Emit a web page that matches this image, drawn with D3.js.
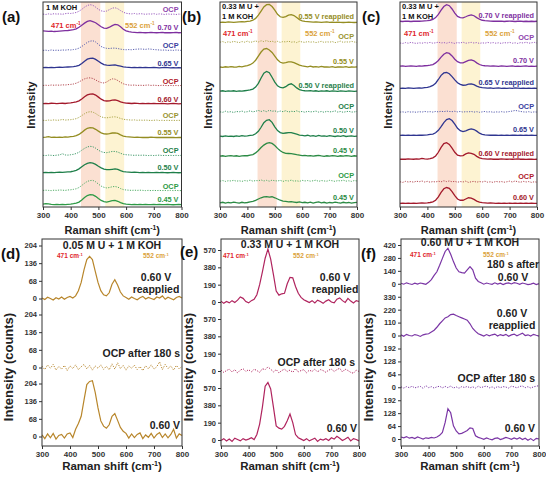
<!DOCTYPE html>
<html>
<head>
<meta charset="utf-8">
<script src="https://cdn.jsdelivr.net/npm/d3@7"></script>
<style>
  body { margin: 0; background: #fff; }
  svg text { font-family: "Liberation Sans", Arial, sans-serif; font-weight: bold; }
</style>
</head>
<body>
<svg id="chart" width="546" height="478"></svg>
<script>
// Raman shift sampling (cm-1)
const ramanShift = [300,310,320,330,340,350,360,370,380,390,400,410,420,430,440,450,460,470,480,490,
  500,510,520,530,540,550,560,570,580,590,600,610,620,630,640,650,660,670,680,690,
  700,710,720,730,740,750,760,770,780,790,800]
const xTicks = [300, 400, 500, 600, 700, 800]
const bandPink = [437, 507]
const bandYellow = [525, 593]

// ---- panel (a): 1 M KOH, top to bottom ----
const aLabels = ['OCP', '0.70 V', 'OCP', '0.65 V', 'OCP', '0.60 V', 'OCP', '0.55 V', 'OCP', '0.50 V', 'OCP', '0.45 V']
const aOffsets = [937, 849, 761, 678, 590, 502, 420, 337, 249, 166, 78, 10]
const aOcp070 = [4,2,5,3,6,4,5,3,6,8,7,9,12,18,27,38,46,50,47,38,27,20,17,19,26,33,35,30,21,13,8,6,5,7,4,6,5,3,5,4,6,3,5,4,2,5,3,4,2,4,3]
const a070 = [10,9,8,9,7,8,9,10,11,12,14,16,20,28,38,48,56,60,55,50,40,30,24,22,28,36,42,40,30,18,10,6,4,3,2,3,2,1,2,3,2,1,2,3,1,2,1,2,3,1,2]
const aOcp065 = [3,4,2,5,3,4,3,5,4,6,5,7,9,14,22,32,42,48,50,44,32,22,16,13,12,14,14,12,9,7,6,7,6,8,9,10,9,8,10,9,7,6,5,4,5,3,4,3,5,4,3]
const a065 = [2,3,2,3,2,3,4,3,4,5,6,7,9,13,22,33,43,47,48,42,33,24,17,14,13,14,15,12,9,6,4,3,2,3,2,3,2,3,2,2,3,2,1,2,3,2,1,2,1,2,1]
const aOcp060 = [3,4,3,5,4,5,4,6,5,7,8,10,14,20,28,35,39,40,37,30,22,17,15,20,29,35,34,27,18,11,7,5,4,5,3,4,3,4,5,3,4,3,2,4,3,2,3,2,3,2,3]
const a060 = [2,3,2,4,3,2,3,4,3,5,6,8,11,16,25,36,45,49,50,44,34,24,17,15,16,19,20,17,11,7,5,4,3,4,3,2,3,2,3,2,3,2,2,3,2,1,2,3,2,1,2]
const aOcp055 = [3,2,4,3,5,3,4,7,4,5,6,8,11,17,26,35,42,45,43,36,27,20,16,15,17,19,20,17,12,8,6,5,4,5,3,4,3,4,3,2,3,4,2,3,2,3,2,3,2,3,2]
const a055 = [3,4,6,3,4,3,4,3,5,4,6,8,11,17,27,38,47,50,49,42,33,25,20,19,21,24,25,22,15,9,6,5,4,3,4,3,2,3,2,4,3,2,3,2,3,2,3,2,1,2,2]
const aOcp050 = [3,2,4,3,2,4,5,11,5,4,6,8,12,18,28,37,44,47,45,38,28,21,17,16,19,22,22,19,13,8,6,5,4,3,4,3,4,3,2,3,2,3,4,2,3,2,3,2,3,2,3]
const a050 = [2,3,2,3,2,3,4,3,4,5,6,9,13,20,30,40,47,50,48,42,33,25,19,16,16,18,20,17,11,7,5,4,3,4,3,2,3,2,3,2,2,3,2,3,2,1,2,3,2,1,2]
const aOcp045 = [3,4,3,2,4,3,5,4,3,5,6,8,11,17,27,38,47,51,52,45,34,24,18,15,17,21,22,19,12,7,5,4,3,4,3,4,3,2,3,2,3,2,3,2,3,2,3,2,3,2,2]
const a045 = [4,6,5,3,2,3,2,3,2,3,4,6,9,14,24,36,46,50,49,42,31,22,16,14,17,21,22,18,11,6,4,3,2,3,2,3,2,3,2,2,3,2,3,2,2,3,2,1,2,3,2]

// ---- panel (b): 0.33 M U + 1 M KOH ----
const bLabels = ['0.55 V reapplied', 'OCP', '0.55 V', '0.50 V reapplied', 'OCP', '0.50 V', '0.45 V', 'OCP', '0.45 V']
const bOffsets = [898, 800, 678, 561, 459, 341, 244, 122, 15]
const b055r = [3,4,3,5,4,3,4,5,6,5,7,9,13,22,38,58,78,89,90,80,62,42,30,27,31,38,40,36,26,16,10,7,6,5,4,5,4,3,4,5,3,4,3,4,3,2,3,4,3,2,3]
const bOcp055 = [4,7,2,6,3,8,5,2,7,4,9,3,6,10,5,11,7,12,6,9,4,8,3,7,5,9,4,6,2,8,5,3,7,4,6,2,5,8,3,6,4,7,2,5,9,3,6,4,8,5,3]
const b055 = [5,3,6,4,7,5,4,8,6,9,12,16,24,38,58,78,92,95,88,76,58,40,28,24,26,30,30,26,20,14,10,8,6,9,5,7,4,8,5,6,4,7,3,5,6,4,7,3,5,4,6]
const b050r = [4,6,3,5,4,6,3,5,4,6,8,10,14,24,42,68,92,100,94,72,48,30,22,20,26,36,40,32,20,12,8,6,5,7,4,6,3,5,4,6,3,5,4,3,5,4,3,5,4,3,4]
const bOcp050 = [5,3,8,4,6,2,7,5,9,4,6,10,5,8,12,7,11,6,13,8,10,5,9,6,11,4,8,6,10,5,7,3,8,5,6,9,4,7,3,8,5,6,10,4,7,3,6,8,4,5,7]
const b050 = [5,3,6,4,5,3,6,4,7,5,6,8,10,16,28,48,70,82,85,72,50,32,22,18,20,22,22,18,14,10,8,6,9,5,7,4,8,5,6,4,7,5,3,6,4,7,3,5,6,4,5]
const b045r = [4,6,3,5,7,4,6,3,5,7,6,9,12,20,32,46,58,66,70,66,56,42,30,22,18,17,16,14,11,9,7,8,5,7,4,6,8,5,3,6,4,7,5,3,6,4,7,5,3,6,4]
const bOcp045 = [4,7,3,6,5,8,4,6,3,7,5,9,4,7,6,10,5,8,4,9,6,5,8,3,7,5,9,4,6,3,8,5,7,4,6,9,3,7,5,4,8,6,3,7,5,9,4,6,3,7,5]
const b045 = [5,8,4,7,5,9,6,4,8,5,7,10,12,17,24,30,34,36,33,35,30,24,18,14,12,10,11,9,7,10,6,8,5,9,4,7,10,5,8,4,7,5,9,6,4,8,5,7,4,6,8]

// ---- panel (c): 0.33 M U + 1 M KOH ----
const cLabels = ['0.70 V reapplied', 'OCP', '0.70 V', '0.65 V reapplied', 'OCP', '0.65 V', '0.60 V reapplied', 'OCP', '0.60 V']
const cOffsets = [902, 795, 683, 576, 459, 346, 229, 117, 15]
const c070r = [4,3,5,4,3,4,5,4,5,6,7,9,13,22,38,58,76,85,80,64,44,28,22,21,26,32,35,31,22,14,9,7,6,5,4,5,4,5,3,4,5,4,3,4,5,3,4,3,4,3,4]
const cOcp070 = [5,3,7,4,8,5,3,6,4,7,5,8,4,6,9,5,7,4,8,6,3,7,5,9,4,6,8,5,7,3,6,4,8,5,7,4,6,3,7,5,8,4,6,3,7,5,9,4,6,8,5]
const c070 = [4,5,3,4,5,4,3,5,4,6,7,9,12,20,32,48,62,70,66,54,38,26,20,20,26,32,35,30,20,12,8,6,5,4,5,4,3,5,4,3,4,5,3,4,3,4,5,3,4,3,4]
const c065r = [3,4,3,5,4,3,4,5,4,6,8,11,17,28,46,66,78,80,74,60,44,30,22,18,19,23,25,21,14,9,6,5,4,5,3,4,5,3,4,3,4,3,5,4,3,4,3,4,3,4,3]
const cOcp065 = [4,5,3,6,4,5,3,6,4,7,5,6,4,7,5,8,6,9,7,6,8,5,7,4,6,5,7,4,6,3,5,7,4,6,3,5,4,6,4,5,7,9,12,10,7,5,4,6,3,5,4]
const c065 = [3,4,3,4,3,4,3,5,4,5,6,8,10,16,28,46,66,80,85,76,58,38,26,22,25,31,35,32,24,14,8,6,5,4,5,4,3,4,3,4,3,4,5,3,4,3,4,3,4,3,3]
const c060r = [4,5,4,6,5,4,6,5,8,6,5,7,11,20,38,62,80,85,76,58,38,24,20,22,30,35,33,28,18,11,7,6,5,6,4,5,4,6,5,4,5,4,5,6,4,5,3,5,4,3,4]
const cOcp060 = [6,3,8,5,7,4,9,6,10,5,8,4,7,5,9,6,11,7,10,6,8,4,7,5,9,3,6,8,4,7,5,9,4,6,3,8,5,7,4,6,9,5,10,6,4,8,5,7,3,6,4]
const c060 = [3,4,3,4,3,4,3,4,5,4,5,7,10,18,34,56,74,80,76,60,40,24,18,18,24,30,28,22,14,9,6,5,4,5,4,3,4,3,4,3,4,3,4,3,4,3,4,3,4,3,3]

// ---- panel (d): 0.05 M U + 1 M KOH, counts ----
const dTicks = [0, 68, 136, 204]
const d060r = [2,-4,5,0,-6,3,-2,6,-3,4,8,2,10,30,62,110,150,162,150,105,62,30,14,10,22,55,72,52,25,10,4,-3,6,0,-5,3,8,-2,4,0,-4,6,2,10,-3,5,0,-5,4,8,2]
const dOcp = [5,-8,10,-3,12,-10,4,-6,8,-12,6,-4,10,-8,3,12,-5,8,-10,6,-3,10,-7,5,-9,14,-6,18,-4,8,-10,6,-3,9,-8,4,-12,7,-5,10,-6,3,22,-8,12,-4,6,-10,8,-5,4]
const d060 = [6,-8,10,-5,12,-10,4,8,-6,10,14,-4,28,50,78,140,200,212,215,170,110,60,40,32,45,78,88,62,35,20,12,-6,10,-4,8,14,-8,6,-3,12,-6,8,15,-4,10,-5,8,28,-6,10,4]

// ---- panel (e): 0.33 M U + 1 M KOH, counts ----
const eTicks = [0, 190, 380, 570]
const e060r = [10,-15,5,-10,15,-5,20,55,40,5,-10,15,30,80,190,330,480,580,470,300,120,75,90,95,200,270,265,170,95,50,25,10,-5,15,-10,20,5,-15,10,25,0,-10,30,45,15,-5,40,10,-10,15,5]
const eOcp = [10,-15,5,20,-10,15,-20,10,25,-5,15,-10,20,5,-15,25,15,45,20,-10,15,-20,5,20,-5,10,-15,25,-10,5,15,-20,10,-5,20,-10,15,5,-15,10,20,-5,15,30,-10,20,5,-15,-25,10,-5]
const e060 = [-5,15,-10,10,-15,20,5,-10,15,0,10,25,5,60,175,360,590,630,560,360,155,130,120,150,210,285,190,60,25,10,-5,15,-10,5,20,-15,10,0,15,-5,25,10,40,20,-5,10,30,-10,15,5,-10]

// ---- panel (f): 0.60 M U + 1 M KOH, counts ----
const fTicks = [[0, 140, 280, 420], [0, 110, 220, 330], [0, 64, 128, 192], [0, 64, 128, 192]]
const f180 = [5,-5,10,0,-8,6,-4,8,2,-6,15,45,90,130,200,275,350,385,320,240,170,130,120,115,150,185,150,60,25,10,-5,8,0,-6,10,-4,6,-8,4,10,-2,12,5,-6,8,0,-10,-4,6,-8,2]
const f060r = [5,-6,10,0,-4,8,2,-8,6,12,15,30,45,70,100,125,150,160,178,182,170,160,150,140,130,100,60,35,15,5,-5,8,-2,6,12,-4,8,0,10,-6,5,12,-2,8,20,0,6,-4,10,2,-5]
const fOcp = [2,-4,3,-2,5,-3,1,4,-5,8,-2,3,-4,2,5,-3,4,-2,6,-4,2,-5,3,-1,4,-3,2,-4,5,-2,3,6,-3,2,-5,4,-2,3,1,-4,5,2,-3,4,6,-2,3,-4,2,5,8]
const f060 = [10,6,12,4,8,2,10,5,0,6,3,8,5,10,18,33,82,150,130,65,40,25,28,35,42,55,52,16,8,4,-2,5,0,-4,3,6,-3,2,8,4,-2,5,0,6,-3,4,-6,2,-8,3,0]

const PURPLE = '#7e2f9f', PURPLE_L = '#9a5cc0'
const BLUE = '#2f3590', BLUE_L = '#5a60b0'
const RED = '#a3192b', RED_L = '#b54a52'
const OLIVE = '#948d22', OLIVE_L = '#aaa548'
const GREEN = '#1f7f4a', GREEN_L = '#3f9a6a'
const LGREEN = '#2e9a46', LGREEN_L = '#52ad66'
const RED_TXT = '#e0262c', GOLD_TXT = '#dba23a'

const svg = d3.select('#chart')

// "471 cm-1" style annotation with a superscript
function cmText (g, x, y, num, color, size) {
  const t = g.append('text').attr('x', x).attr('y', y)
    .attr('font-size', size + 'px').attr('fill', color)
  t.append('tspan').text(num + ' cm')
  t.append('tspan').attr('dy', -size * 0.38).attr('font-size', (size * 0.62) + 'px').text('-1')
  return t
}

function xAxis (g, x, yPos, fontSize) {
  const axis = d3.axisBottom(x).tickValues(xTicks).tickSize(3).tickSizeOuter(0).tickPadding(2)
  const a = g.append('g').attr('transform', `translate(0,${yPos})`).call(axis)
  a.select('.domain').remove()
  a.selectAll('.tick line').attr('stroke', '#333')
  a.selectAll('.tick text').attr('font-size', fontSize + 'px').attr('fill', '#333')
    .style('font-family', '"Liberation Sans", Arial, sans-serif').style('font-weight', 'bold')
}

function xTitle (g, cx, y, size) {
  const t = g.append('text').attr('x', cx).attr('y', y).attr('text-anchor', 'middle')
    .attr('font-size', size + 'px').attr('fill', '#222')
  t.append('tspan').text('Raman shift (cm')
  t.append('tspan').attr('dy', -size * 0.38).attr('font-size', (size * 0.62) + 'px').text('-1')
  t.append('tspan').attr('dy', size * 0.38).text(')')
}

function yTitle (g, cx, cy, text, size) {
  g.append('text').attr('transform', `translate(${cx},${cy}) rotate(-90)`)
    .attr('text-anchor', 'middle').attr('font-size', size + 'px').attr('fill', '#222').text(text)
}

// ---------- top row: stacked spectra ----------
function stackPanel (cfg) {
  const x = d3.scaleLinear().domain([300, 800]).range([cfg.left, cfg.right])
  const y = d3.scaleLinear().domain([0, 1000]).range([207, 2])
  const g = svg.append('g')

  g.append('rect').attr('x', x(bandPink[0])).attr('y', 2)
    .attr('width', x(bandPink[1]) - x(bandPink[0])).attr('height', 205).attr('fill', '#fbe0d2')
  g.append('rect').attr('x', x(bandYellow[0])).attr('y', 2)
    .attr('width', x(bandYellow[1]) - x(bandYellow[0])).attr('height', 205).attr('fill', '#fdf3d2')

  cfg.series.forEach((s, i) => {
    const off = cfg.offsets[i]
    const line = d3.line().x((d, j) => x(ramanShift[j])).y(d => y(d + off))
    g.append('path').datum(s.values)
      .attr('fill', 'none')
      .attr('stroke', s.color)
      .attr('stroke-width', s.dotted ? 1 : 1.3)
      .attr('stroke-dasharray', s.dotted ? '1.2,1.3' : null)
      .attr('d', line)
    g.append('text')
      .attr('x', cfg.right - 3).attr('y', y(off) - cfg.labelLift)
      .attr('text-anchor', 'end').attr('font-size', '7.3px')
      .attr('fill', s.labelColor || s.color)
      .text(cfg.labels[i])
  })

  g.append('rect').attr('x', cfg.left).attr('y', 2)
    .attr('width', cfg.right - cfg.left).attr('height', 205)
    .attr('fill', 'none').attr('stroke', '#333').attr('stroke-width', 1)

  xAxis(g, x, 207, 8)
  xTitle(g, (cfg.left + cfg.right) / 2, 234, 11)
  yTitle(g, cfg.left - 8, 105, 'Intensity', 11.5)
  g.append('text').attr('x', cfg.letterX).attr('y', 22).attr('font-size', '15px').attr('fill', '#111').text(cfg.letter)
  return { g, x, y }
}

const pa = stackPanel({
  left: 43, right: 181.5, letter: '(a)', letterX: 2, labelLift: 2.5,
  labels: aLabels, offsets: aOffsets,
  series: [
    { values: aOcp070, color: PURPLE_L, dotted: true, labelColor: '#8e44ad' },
    { values: a070, color: PURPLE },
    { values: aOcp065, color: BLUE_L, dotted: true, labelColor: '#3a40a0' },
    { values: a065, color: BLUE },
    { values: aOcp060, color: RED_L, dotted: true, labelColor: '#b0202a' },
    { values: a060, color: RED },
    { values: aOcp055, color: OLIVE_L, dotted: true, labelColor: '#9a9430' },
    { values: a055, color: OLIVE },
    { values: aOcp050, color: GREEN_L, dotted: true, labelColor: GREEN },
    { values: a050, color: GREEN },
    { values: aOcp045, color: LGREEN_L, dotted: true, labelColor: LGREEN },
    { values: a045, color: LGREEN }
  ]
})
pa.g.append('text').attr('x', 46).attr('y', 10).attr('font-size', '7.5px').attr('fill', '#111').text('1 M KOH')
cmText(pa.g, 51, 28, '471', RED_TXT, 7.5)
cmText(pa.g, 125, 28, '552', GOLD_TXT, 7.5)

const pb = stackPanel({
  left: 220, right: 357, letter: '(b)', letterX: 182, labelLift: 4,
  labels: bLabels, offsets: bOffsets,
  series: [
    { values: b055r, color: OLIVE },
    { values: bOcp055, color: OLIVE_L, dotted: true, labelColor: '#9a9430' },
    { values: b055, color: OLIVE },
    { values: b050r, color: GREEN },
    { values: bOcp050, color: GREEN_L, dotted: true, labelColor: GREEN },
    { values: b050, color: GREEN },
    { values: b045r, color: '#2b8a44' },
    { values: bOcp045, color: LGREEN_L, dotted: true, labelColor: LGREEN },
    { values: b045, color: '#2b8a44' }
  ]
})
pb.g.append('text').attr('x', 222).attr('y', 9).attr('font-size', '7.5px').attr('fill', '#111').text('0.33 M U +')
pb.g.append('text').attr('x', 222).attr('y', 19).attr('font-size', '7.5px').attr('fill', '#111').text('1 M KOH')
cmText(pb.g, 223, 36, '471', RED_TXT, 7.5)
cmText(pb.g, 305, 36, '552', GOLD_TXT, 7.5)

const pc = stackPanel({
  left: 400, right: 537, letter: '(c)', letterX: 362, labelLift: 4,
  labels: cLabels, offsets: cOffsets,
  series: [
    { values: c070r, color: PURPLE },
    { values: cOcp070, color: PURPLE_L, dotted: true, labelColor: '#8e44ad' },
    { values: c070, color: PURPLE },
    { values: c065r, color: BLUE },
    { values: cOcp065, color: BLUE_L, dotted: true, labelColor: '#3a40a0' },
    { values: c065, color: BLUE },
    { values: c060r, color: RED },
    { values: cOcp060, color: RED_L, dotted: true, labelColor: '#b0202a' },
    { values: c060, color: RED }
  ]
})
pc.g.append('text').attr('x', 402).attr('y', 9).attr('font-size', '7.5px').attr('fill', '#111').text('0.33 M U +')
pc.g.append('text').attr('x', 402).attr('y', 19).attr('font-size', '7.5px').attr('fill', '#111').text('1 M KOH')
cmText(pc.g, 404, 36, '471', RED_TXT, 7.5)
cmText(pc.g, 485, 36, '552', GOLD_TXT, 7.5)

// ---------- bottom row: segmented spectra with count axes ----------
const BOT_TOP = 239, BOT_BOTTOM = 446

function segPanel (cfg) {
  const x = d3.scaleLinear().domain([300, 800]).range([cfg.left, cfg.right])
  const g = svg.append('g')
  const n = cfg.series.length
  const segH = (BOT_BOTTOM - BOT_TOP) / n

  cfg.series.forEach((s, i) => {
    const top = BOT_TOP + i * segH
    const ticks = cfg.ticks[i]
    const y = d3.scaleLinear().domain([0, ticks[ticks.length - 1]])
      .range([top + segH - cfg.zeroPad, top + cfg.topPad])
    const line = d3.line().x((d, j) => x(ramanShift[j])).y(d => y(d))
    g.append('path').datum(s.values)
      .attr('fill', 'none').attr('stroke', cfg.color)
      .attr('stroke-width', s.dotted ? 1 : 1.2)
      .attr('stroke-dasharray', s.dotted ? '1.2,1.4' : null)
      .attr('d', line)
    const ax = g.append('g').attr('transform', `translate(${cfg.left},0)`)
      .call(d3.axisLeft(y).tickValues(ticks).tickSize(3).tickSizeOuter(0).tickPadding(2))
    ax.select('.domain').remove()
    ax.selectAll('.tick line').attr('stroke', '#333')
    ax.selectAll('.tick text').attr('font-size', '7.5px').attr('fill', '#333')
      .style('font-family', '"Liberation Sans", Arial, sans-serif').style('font-weight', 'bold')
  })

  g.append('rect').attr('x', cfg.left).attr('y', BOT_TOP)
    .attr('width', cfg.right - cfg.left).attr('height', BOT_BOTTOM - BOT_TOP)
    .attr('fill', 'none').attr('stroke', '#333').attr('stroke-width', 1)

  xAxis(g, x, BOT_BOTTOM, 8)
  xTitle(g, (cfg.left + cfg.right) / 2, 470, 11.5)
  yTitle(g, cfg.yTitleX, 367, 'Intensity (counts)', 13)
  g.append('text').attr('x', cfg.letterX).attr('y', cfg.letterY).attr('font-size', '15px').attr('fill', '#111').text(cfg.letter)
  g.append('text').attr('x', (cfg.left + cfg.right) / 2).attr('y', cfg.titleY).attr('text-anchor', 'middle')
    .attr('font-size', '10.5px').attr('fill', '#222').text(cfg.title)
  cmText(g, cfg.cm471, cfg.cmY, '471', RED_TXT, 6.5)
  cmText(g, cfg.cm552, cfg.cmY, '552', GOLD_TXT, 6.5)
  cfg.notes.forEach(nt => {
    g.append('text').attr('x', nt[0]).attr('y', nt[1]).attr('text-anchor', nt[3])
      .attr('font-size', '10.5px').attr('fill', '#222').text(nt[2])
  })
  return g
}

segPanel({
  left: 42, right: 182, letter: '(d)', letterX: 1, letterY: 259, yTitleX: 13,
  title: '0.05 M U + 1 M KOH', titleY: 249, color: '#b8862b', cm471: 57, cm552: 143, cmY: 258,
  ticks: [dTicks, dTicks, dTicks], zeroPad: 9.5, topPad: 6.5,
  series: [{ values: d060r }, { values: dOcp, dotted: true }, { values: d060 }],
  notes: [[156, 281, '0.60 V', 'middle'], [156, 293, 'reapplied', 'middle'],
    [180, 357, 'OCP after 180 s', 'end'], [180, 429, '0.60 V', 'end']]
})

segPanel({
  left: 221, right: 359, letter: '(e)', letterX: 180, letterY: 257, yTitleX: 193,
  title: '0.33 M U + 1 M KOH', titleY: 248, color: '#b0245e', cm471: 223, cm552: 293, cmY: 258,
  ticks: [eTicks, eTicks, eTicks], zeroPad: 6, topPad: 11,
  series: [{ values: e060r }, { values: eOcp, dotted: true }, { values: e060 }],
  notes: [[335, 281, '0.60 V', 'middle'], [335, 293, 'reapplied', 'middle'],
    [355, 366, 'OCP after 180 s', 'end'], [357, 432, '0.60 V', 'end']]
})

segPanel({
  left: 401, right: 539, letter: '(f)', letterX: 361, letterY: 259, yTitleX: 373,
  title: '0.60 M U + 1 M KOH', titleY: 246, color: '#7a35a5', cm471: 410, cm552: 483, cmY: 257,
  ticks: fTicks, zeroPad: 7, topPad: 6,
  series: [{ values: f180 }, { values: f060r }, { values: fOcp, dotted: true }, { values: f060 }],
  notes: [[513, 268, '180 s after', 'middle'], [513, 281, '0.60 V', 'middle'],
    [512, 317, '0.60 V', 'middle'], [512, 329, 'reapplied', 'middle'],
    [535, 382, 'OCP after 180 s', 'end'], [535, 432, '0.60 V', 'end']]
})
</script>
</body>
</html>
